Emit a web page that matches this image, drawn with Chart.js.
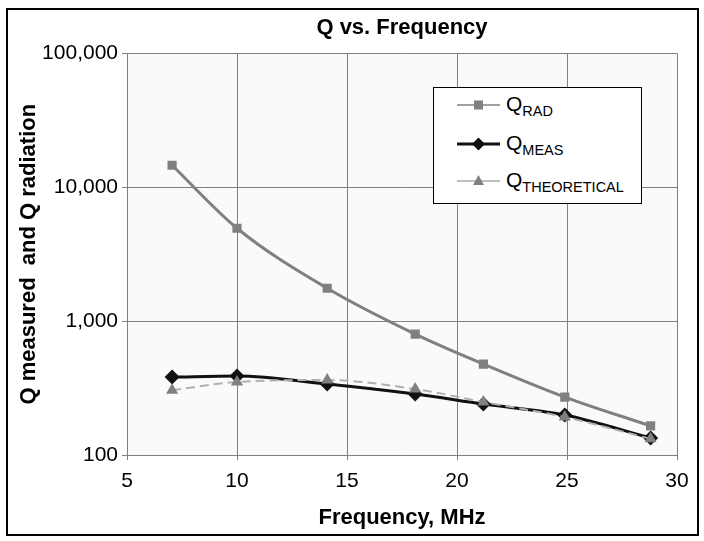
<!DOCTYPE html>
<html><head><meta charset="utf-8">
<script src="https://cdn.jsdelivr.net/npm/chart.js@4.4.1/dist/chart.umd.min.js"></script>
<style>
html,body{margin:0;padding:0;background:#fff;}
#wrap{position:relative;width:704px;height:541px;}
#frame{position:absolute;left:6px;top:8px;width:689px;height:524px;border:2px solid #000;pointer-events:none;}
#legend{position:absolute;left:433px;top:87px;width:207px;height:115px;border:1px solid #000;background:#fff;font-family:"Liberation Sans",Arial,sans-serif;}
.row{position:absolute;left:0;height:30px;}
.row svg{position:absolute;left:22px;top:0;}
.row .t{position:absolute;left:72px;top:2px;font-size:21px;color:#000;white-space:nowrap;line-height:24px;}
.row .t sub{font-size:14.5px;vertical-align:-5px;}
</style></head>
<body>
<div id="wrap">
<canvas id="c" width="704" height="541"></canvas>
<div id="legend">
 <div class="row" style="top:2px"><svg width="46" height="30"><line x1="1" y1="15" x2="44" y2="15" stroke="#808080" stroke-width="1.5"/><rect x="18" y="10.5" width="9" height="9" fill="#808080"/></svg><div class="t">Q<sub>RAD</sub></div></div>
 <div class="row" style="top:41px"><svg width="46" height="30"><line x1="1" y1="15" x2="44" y2="15" stroke="#111" stroke-width="3"/><polygon points="22.5,8.5 29,15 22.5,21.5 16,15" fill="#111"/></svg><div class="t">Q<sub>MEAS</sub></div></div>
 <div class="row" style="top:78px"><svg width="46" height="30"><line x1="1" y1="15" x2="44" y2="15" stroke="#aaa" stroke-width="1.5"/><polygon points="22.5,9 28,19 17,19" fill="#808080"/></svg><div class="t">Q<sub>THEORETICAL</sub></div></div>
</div>
<div id="frame"></div>
</div>
<script>
const freq = [7.05, 10.0, 14.1, 18.1, 21.2, 24.9, 28.8];
const qRad = [14600, 4940, 1760, 800, 478, 271, 165];
const qMeas = [382, 389, 339, 285, 240, 199, 134];
const qTheo = [305, 351, 363, 311, 249, 192, 132];
const yTicks = [100, 1000, 10000, 100000];
const xTicks = [5, 10, 15, 20, 25, 30];

const FONT = '"Liberation Sans", Arial, sans-serif';
const pts = arr => freq.map((f, i) => ({x: f, y: arr[i]}));

const bgPlugin = {
  id: 'plotbg',
  beforeDraw(chart) {
    const {ctx, chartArea: a} = chart;
    ctx.save();
    ctx.fillStyle = '#fafafa';
    ctx.fillRect(a.left, a.top, a.right - a.left, a.bottom - a.top);
    ctx.restore();
  }
};

new Chart(document.getElementById('c'), {
  type: 'line',
  data: {
    datasets: [
      {label: 'Q RAD', data: pts(qRad), borderColor: '#808080', backgroundColor: '#808080',
       borderWidth: 3, pointStyle: 'rect', pointRadius: 6.5, pointBorderWidth: 0, cubicInterpolationMode: 'monotone', order: 3},
      {label: 'Q THEO', data: pts(qTheo), borderColor: '#b0b0b0', backgroundColor: '#808080',
       borderWidth: 2, borderDash: [9, 5], pointStyle: 'triangle', pointRadius: 7, pointBorderWidth: 0, cubicInterpolationMode: 'monotone', order: 1},
      {label: 'Q MEAS', data: pts(qMeas), borderColor: '#111', backgroundColor: '#111',
       borderWidth: 3, pointStyle: 'rectRot', pointRadius: 7.5, pointBorderWidth: 0, cubicInterpolationMode: 'monotone', order: 2}
    ]
  },
  options: {
    responsive: false,
    animation: false,
    layout: {padding: {left: 0, right: 27, top: 0, bottom: 0}},
    plugins: {
      legend: {display: false},
      tooltip: {enabled: false},
      title: {display: true, text: 'Q vs. Frequency', fullSize: false, color: '#000',
        font: {family: FONT, size: 22, weight: 'bold'}, padding: {top: 15, bottom: 12}}
    },
    scales: {
      x: {
        type: 'linear', min: 5, max: 30,
        afterBuildTicks: s => { s.ticks = xTicks.map(v => ({value: v})); },
        afterFit: s => { s.height = 86; },
        ticks: {color: '#000', font: {family: FONT, size: 21}, padding: 9, maxRotation: 0},
        grid: {color: '#808080', lineWidth: 1, tickLength: 5},
        border: {color: '#808080', width: 1},
        title: {display: true, text: 'Frequency, MHz', color: '#000',
          font: {family: FONT, size: 22, weight: 'bold'}, padding: {top: 0, bottom: 10}}
      },
      y: {
        type: 'logarithmic', min: 100, max: 100000,
        afterBuildTicks: s => { s.ticks = yTicks.map(v => ({value: v})); },
        afterFit: s => { s.width = 127; },
        ticks: {color: '#000', font: {family: FONT, size: 21}, padding: 4,
          callback: v => Number(v).toLocaleString('en-US')},
        grid: {color: '#808080', lineWidth: 1, tickLength: 5},
        border: {color: '#808080', width: 1},
        title: {display: true, text: 'Q measured  and Q radiation', color: '#000',
          font: {family: FONT, size: 22, weight: 'bold'}, padding: {top: 16, bottom: 0}}
      }
    }
  },
  plugins: [bgPlugin]
});
</script>
</body></html>
